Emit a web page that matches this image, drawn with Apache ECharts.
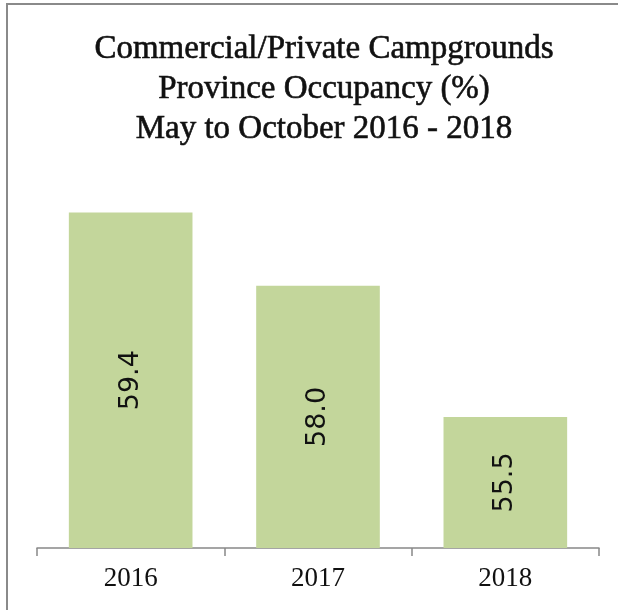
<!DOCTYPE html>
<html><head><meta charset="utf-8">
<script src="https://cdn.jsdelivr.net/npm/echarts@6/dist/echarts.min.js"></script>
<style>html,body{margin:0;padding:0;background:#fff}#c{width:618px;height:610px}</style>
</head><body><div id="c"></div>
<script>
var categories = ['2016', '2017', '2018'];
var occupancy = [59.4, 58.0, 55.5];
var titleLines = ['Commercial/Private Campgrounds', 'Province Occupancy (%)', 'May to October 2016 - 2018'];

var chart = echarts.init(document.getElementById('c'), null, {renderer: 'canvas'});
chart.setOption({
  animation: false,
  backgroundColor: '#fff',
  title: {
    text: titleLines.join('\n'),
    left: 319,
    textAlign: 'center',
    top: 24,
    textStyle: {fontFamily: 'Liberation Serif', fontSize: 33, fontWeight: 'normal', color: '#111', lineHeight: 40,
                textBorderColor: '#111', textBorderWidth: 0.6}
  },
  graphic: [{
    type: 'rect', silent: true,
    shape: {x: 7, y: 4, width: 800, height: 800},
    style: {fill: 'none', stroke: '#8a8a8a', lineWidth: 2}
  }],
  grid: {left: 37, right: 19, top: 181, bottom: 62},
  xAxis: {
    type: 'category',
    data: categories,
    axisLine: {lineStyle: {color: '#888', width: 1.5}},
    axisTick: {show: true, length: 8, lineStyle: {color: '#888', width: 1.5}},
    axisLabel: {fontFamily: 'Liberation Serif', fontSize: 27, color: '#111', margin: 17}
  },
  yAxis: {
    type: 'value', min: 53, max: 60, show: false,
    splitLine: {show: false}
  },
  series: [{
    type: 'bar',
    data: occupancy,
    barCategoryGap: '34%',
    itemStyle: {color: '#c3d69b'},
    label: {
      show: true, position: 'inside', rotate: 90,
      formatter: function (p) { return p.value.toFixed(1); },
      fontFamily: 'DejaVu Sans', fontSize: 27, color: '#111'
    }
  }]
});
</script></body></html>
